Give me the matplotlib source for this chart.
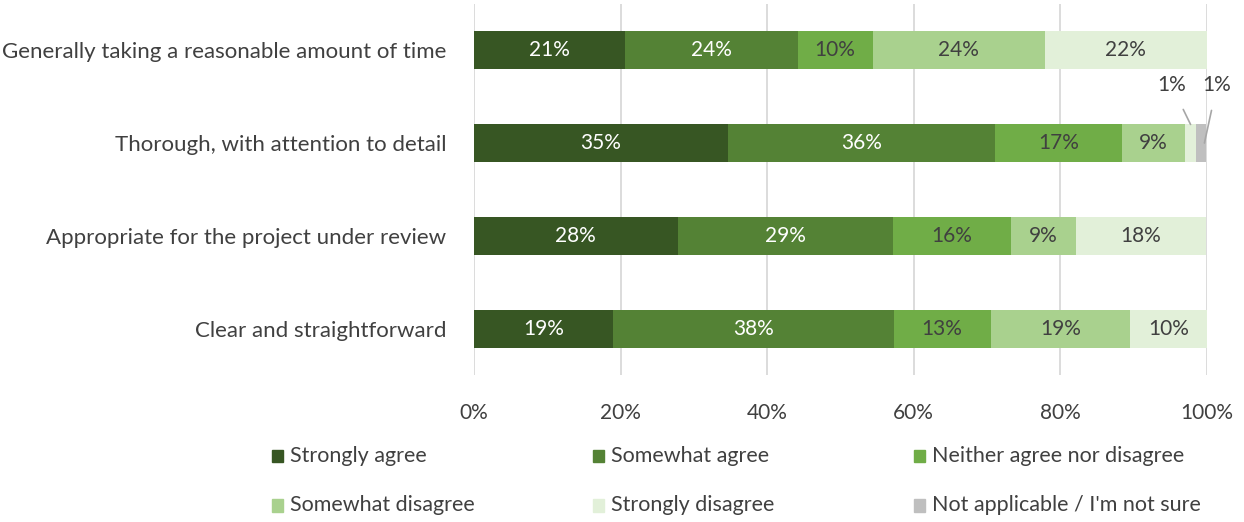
import matplotlib.pyplot as plt
from matplotlib.patches import Rectangle
import numpy as np

plt.rcParams['font.family'] = ['Lato', 'DejaVu Sans']

# survey items, top to bottom
items = [
    "Generally taking a reasonable amount of time",
    "Thorough, with attention to detail",
    "Appropriate for the project under review",
    "Clear and straightforward",
]
responses = [
    "Strongly agree", "Somewhat agree", "Neither agree nor disagree",
    "Somewhat disagree", "Strongly disagree", "Not applicable / I'm not sure",
]
colors = ["#375623", "#548235", "#70AD47", "#A9D18E", "#E2F0D9", "#BFBFBF"]
label_colors = ["white", "white", "#404040", "#404040", "#404040", "#404040"]

# percent share per response, one list per item
strongly_agree = [20.6, 34.7, 27.8, 19.0]
somewhat_agree = [23.6, 36.4, 29.4, 38.3]
neither = [10.2, 17.3, 16.1, 13.2]
somewhat_disagree = [23.5, 8.7, 8.9, 19.1]
strongly_disagree = [22.1, 1.4, 17.7, 10.4]
not_applicable = [0.0, 1.4, 0.0, 0.0]

series = [strongly_agree, somewhat_agree, neither,
          somewhat_disagree, strongly_disagree, not_applicable]

ticks = [0, 20, 40, 60, 80, 100]
tick_labels = ["0%", "20%", "40%", "60%", "80%", "100%"]

txt = "#404040"
fig = plt.figure(figsize=(12.44, 5.22), dpi=100)
ax = fig.add_axes([0.381, 0.281, 0.589, 0.712])

y = np.arange(len(items))
left = np.zeros(len(items))
for vals, col, lc in zip(series, colors, label_colors):
    vals = np.array(vals)
    ax.barh(y, vals, left=left, height=0.41, color=col, zorder=3)
    for yi, (l, v) in enumerate(zip(left, vals)):
        if v >= 5:
            ax.text(l + v / 2, yi, f"{round(v):.0f}%", ha="center", va="center",
                    color=lc, fontsize=15, zorder=4)
    left = left + vals

# small segments on the second item get callout labels
row = 1
small_left = strongly_agree[row] + somewhat_agree[row] + neither[row] + somewhat_disagree[row]
ax.annotate(f"{round(strongly_disagree[row]):.0f}%",
            xy=(small_left + strongly_disagree[row] / 2, row - 0.2),
            xytext=(95.2, row - 0.62), ha="center", va="center", color=txt, fontsize=15,
            arrowprops=dict(arrowstyle="-", color="#A6A6A6", lw=1.2, shrinkA=9, shrinkB=0))
ax.annotate(f"{round(not_applicable[row]):.0f}%",
            xy=(small_left + strongly_disagree[row] + not_applicable[row] * 0.85, row),
            xytext=(101.4, row - 0.62), ha="center", va="center", color=txt, fontsize=15,
            arrowprops=dict(arrowstyle="-", color="#A6A6A6", lw=1.2, shrinkA=9, shrinkB=0),
            annotation_clip=False)

ax.set_xlim(0, 100)
ax.set_ylim(len(items) - 0.5, -0.5)
ax.set_xticks(ticks)
ax.set_xticklabels(tick_labels)
ax.set_yticks(y)
ax.set_yticklabels(items)
ax.grid(axis="x", color="#D9D9D9", lw=1.3, zorder=0)
for s in ax.spines.values():
    s.set_visible(False)
ax.tick_params(length=0, labelsize=16, labelcolor=txt)
ax.tick_params(axis="x", pad=20, labelsize=15)
ax.tick_params(axis="y", pad=20)

# legend: three columns, two rows
col_x = [0.219, 0.477, 0.735]
row_y = [0.126, 0.032]
for i, (name, col) in enumerate(zip(responses, colors)):
    cx, cy = col_x[i % 3], row_y[i // 3]
    fig.patches.append(Rectangle((cx, cy - 0.012), 0.0085, 0.024, color=col,
                                 transform=fig.transFigure, figure=fig))
    fig.text(cx + 0.0145, cy, name, ha="left", va="center", fontsize=15.5, color=txt)

fig.savefig("out.png", dpi=100)
